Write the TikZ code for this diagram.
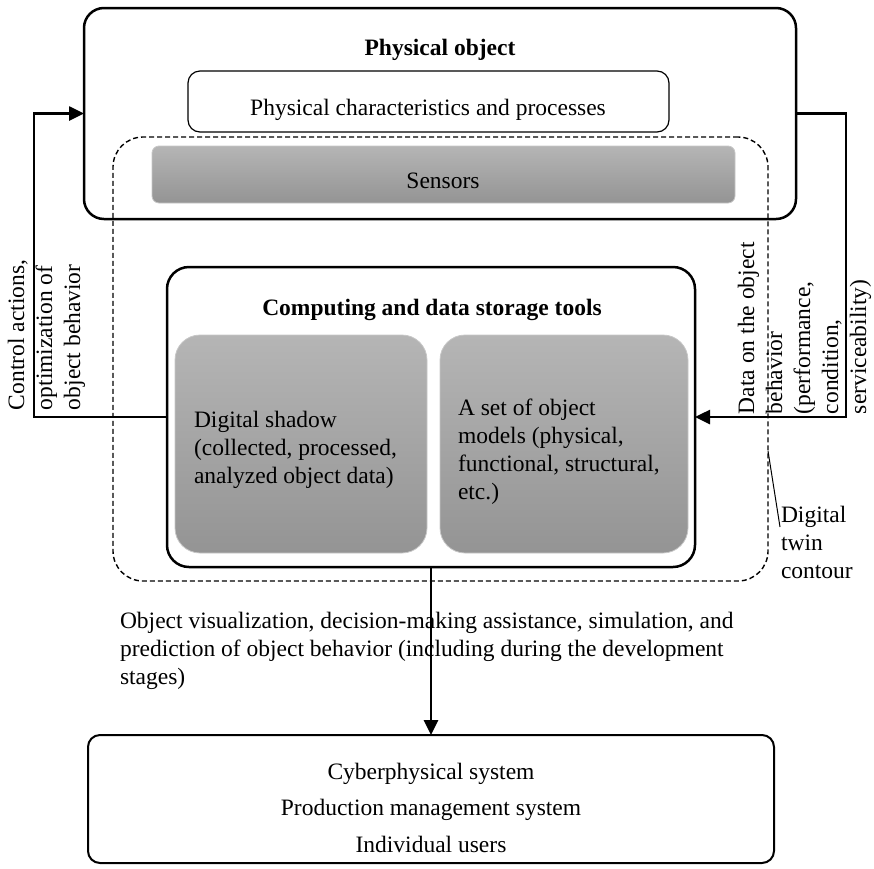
\documentclass[tikz,border=0pt]{standalone}
\usepackage{fontspec}
\setmainfont{Liberation Serif}
\usetikzlibrary{arrows.meta}

\newcommand{\lines}[2]{\begin{tabular}[t]{@{}#1@{}}#2\end{tabular}}

\begin{document}
\begin{tikzpicture}[x=1pt,y=-1pt,
  every node/.style={inner sep=0pt, outer sep=0pt},
  txt/.style={font=\fontsize{23.5}{28}\selectfont},
  btxt/.style={font=\fontsize{23.5}{28}\selectfont\bfseries},
  wide/.style={font=\fontsize{23.5}{36.5}\selectfont},
  heavybox/.style={draw, line width=2.5pt, rounded corners=#1},
  thinbox/.style={draw, line width=1.2pt, rounded corners=12pt},
  graybox/.style={draw=black!22, line width=0.8pt, rounded corners=#1,
    top color=black!29, bottom color=black!42},
  contourbox/.style={draw, line width=1.4pt, dash pattern=on 5pt off 3pt,
    rounded corners=30pt},
  conn/.style={line width=2.6pt},
  tip/.style={-{Triangle[length=15pt,width=14pt]}}
]
\useasboundingbox (0,0) rectangle (874,868);

% physical object
\node[heavybox=20pt, minimum width=712pt, minimum height=211pt] (phys) at (440,113.5) {};
\node[btxt, anchor=base] (physT) at (440,55) {Physical object};
\node[thinbox, minimum width=481pt, minimum height=61pt] (pchar) at (428.5,101.5) {};
\node[txt, anchor=base] (pcharT) at (428,115) {Physical characteristics and processes};
\node[graybox=7pt, minimum width=583pt, minimum height=57pt] (sens) at (443.5,174.5) {};
\node[txt, anchor=base] (sensT) at (443,188) {Sensors};

% digital twin contour
\node[contourbox, minimum width=655pt, minimum height=444pt] (contour) at (440.5,359) {};

% computing and data storage tools
\node[heavybox=22pt, minimum width=528pt, minimum height=300pt] (comp) at (431,417) {};
\node[btxt, anchor=base] (compT) at (432,315) {Computing and data storage tools};
\node[graybox=25pt, minimum width=252pt, minimum height=218pt] (shadow) at (301,444) {};
\node[graybox=25pt, minimum width=248pt, minimum height=218pt] (models) at (564,444) {};
\node[txt, anchor=base west] (shadowT) at (194,427)
  {\lines{l}{Digital shadow\\(collected, processed,\\analyzed object data)}};
\node[txt, anchor=base west] (modelsT) at (458,415)
  {\lines{l}{A set of object\\models (physical,\\functional, structural,\\etc.)}};

% consumers
\node[draw, line width=2pt, rounded corners=12pt, minimum width=686pt, minimum height=128pt] (users) at (431,799) {};
\node[wide, anchor=base] (usersT) at (431,779)
  {\lines{c}{Cyberphysical system\\Production management system\\Individual users}};

% connectors
\coordinate (lbend) at (34,417);
\coordinate (rbend) at (846,417);
\draw[conn, tip] (comp.west) -- (lbend) |- (phys.west);
\draw[conn, tip] (phys.east) -| (rbend) -- (comp.east);
\draw[conn, tip] (comp.south) -- (comp.south |- users.north);

% connector labels
\node[txt, rotate=90, anchor=base west] (ctrlT) at (24,410)
  {\lines{l}{Control actions,\\optimization of\\object behavior}};
\node[txt, rotate=90, anchor=base west] (dataT) at (754,414)
  {\lines{l}{Data on the object\\behavior\\(performance,\\condition,\\serviceability)}};
\node[txt, anchor=base west] (visT) at (120,628)
  {\lines{l}{Object visualization, decision-making assistance, simulation, and\\prediction of object behavior (including during the development\\stages)}};

% contour label with leader
\node[txt, anchor=base west] (dtcT) at (781,522) {\lines{l}{Digital\\twin\\contour}};
\coordinate (leadA) at (768,451);
\coordinate (leadB) at (780,527);
\draw[line width=1pt] (leadA) -- (leadB);

\end{tikzpicture}
\end{document}
